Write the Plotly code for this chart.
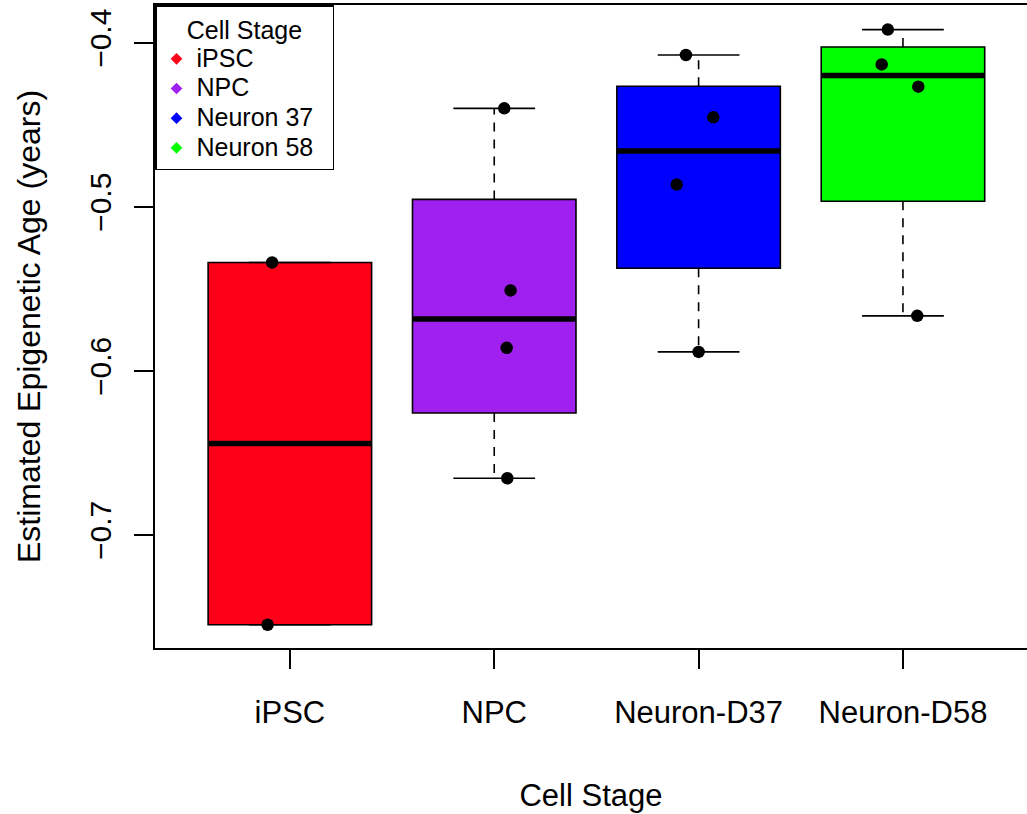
import numpy as np
import plotly.graph_objects as go

# ---------------- data ----------------
categories = ["iPSC", "NPC", "Neuron-D37", "Neuron-D58"]
legend_labels = ["iPSC", "NPC", "Neuron 37", "Neuron 58"]
colors = ["#FF0019", "#A020F0", "#0000FF", "#00FF00"]

ipsc_values = [-0.5340, -0.7548]
npc_values = [-0.4400, -0.5510, -0.5860, -0.6655]
d37_values = [-0.4075, -0.4455, -0.4865, -0.5885]
d58_values = [-0.3920, -0.4132, -0.4268, -0.5665]

# horizontal jitter of the dots (category units)
ipsc_jitter = [-0.087, -0.109]
npc_jitter = [0.049, 0.080, 0.061, 0.064]
d37_jitter = [-0.062, 0.072, -0.107, 0.0]
d58_jitter = [-0.074, -0.104, 0.075, 0.070]

groups = [ipsc_values, npc_values, d37_values, d58_values]
jitters = [ipsc_jitter, npc_jitter, d37_jitter, d58_jitter]

FONT = "Liberation Sans, Arial, sans-serif"
BOX_W = 0.8


def fivenum(v):
    x = np.sort(np.asarray(v, dtype=float))
    n = len(x)
    n4 = np.floor((n + 3) / 2) / 2
    d = np.array([1, n4, (n + 1) / 2, n + 1 - n4, n]) - 1
    return 0.5 * (x[np.floor(d).astype(int)] + x[np.ceil(d).astype(int)])


fig = go.Figure()

med_x, med_y = [], []
wh_x, wh_y = [], []
st_x, st_y = [], []
pt_x, pt_y = [], []

for i, (vals, jit) in enumerate(zip(groups, jitters)):
    pos = i + 1
    s = fivenum(vals)
    q1, med, q3 = s[1], s[2], s[3]
    iqr = q3 - q1
    arr = np.asarray(vals)
    lo = arr[arr >= q1 - 1.5 * iqr].min()
    hi = arr[arr <= q3 + 1.5 * iqr].max()

    fig.add_trace(go.Bar(
        x=[pos], y=[q3 - q1], base=[q1], width=BOX_W,
        marker=dict(color=colors[i], line=dict(color="black", width=1.6)),
        showlegend=False, hoverinfo="skip"))

    med_x += [pos - BOX_W / 2, pos + BOX_W / 2, None]
    med_y += [med, med, None]
    wh_x += [pos, pos, None, pos, pos, None]
    wh_y += [q3, hi, None, q1, lo, None]
    st_x += [pos - BOX_W / 4, pos + BOX_W / 4, None, pos - BOX_W / 4, pos + BOX_W / 4, None]
    st_y += [hi, hi, None, lo, lo, None]
    pt_x += [pos + j for j in jit]
    pt_y += list(vals)

fig.add_trace(go.Scatter(x=wh_x, y=wh_y, mode="lines",
                         line=dict(color="black", width=1.6, dash="9px,8px"),
                         showlegend=False, hoverinfo="skip"))
fig.add_trace(go.Scatter(x=st_x, y=st_y, mode="lines",
                         line=dict(color="black", width=1.6),
                         showlegend=False, hoverinfo="skip"))
fig.add_trace(go.Scatter(x=med_x, y=med_y, mode="lines",
                         line=dict(color="black", width=5.5),
                         showlegend=False, hoverinfo="skip"))
fig.add_trace(go.Scatter(x=pt_x, y=pt_y, mode="markers",
                         marker=dict(color="black", size=12.5),
                         showlegend=False))

# legend entries
for lab, col in zip(legend_labels, colors):
    fig.add_trace(go.Scatter(
        x=[None], y=[None], mode="markers",
        marker=dict(symbol="diamond", color=col, size=9),
        name=f"<span style='font-size:25px'>{lab}&nbsp;&nbsp;</span>"))

fig.update_layout(
    width=1027, height=814,
    margin=dict(l=155, r=0, t=5, b=166, autoexpand=False),
    paper_bgcolor="white", plot_bgcolor="white",
    font=dict(family=FONT, color="black", size=31),
    barmode="overlay",
    legend=dict(
        x=0, y=1, xanchor="left", yanchor="top",
        bgcolor="white", bordercolor="black", borderwidth=1.5,
        font=dict(family=FONT, size=20.5, color="black"),
        title=dict(text="Cell Stage", side="top center",
                   font=dict(family=FONT, size=25, color="black")),
    ),
    xaxis=dict(
        range=[0.34, 4.607], automargin=False,
        tickmode="array", tickvals=[1, 2, 3, 4], ticktext=categories,
        ticks="outside", ticklen=19, tickwidth=1.5, tickcolor="black",
        showline=True, linecolor="black", linewidth=1.5, mirror=True,
        showgrid=False, zeroline=False,
        tickfont=dict(family=FONT, size=31),
        ticklabelstandoff=17,
        title=dict(text="Cell Stage", font=dict(family=FONT, size=31), standoff=55),
    ),
    yaxis=dict(
        range=[-0.7690, -0.3770], automargin=False,
        tick0=-0.4, dtick=0.1,
        tickangle=-90,
        ticks="outside", ticklen=19, tickwidth=1.5, tickcolor="black",
        showline=True, linecolor="black", linewidth=1.5, mirror=False,
        showgrid=False, zeroline=False,
        tickfont=dict(family=FONT, size=30),
        ticklabelstandoff=11,
        title=dict(text="Estimated Epigenetic Age (years)",
                   font=dict(family=FONT, size=32), standoff=34),
    ),
)

fig.write_html("out.html",
               config={"displayModeBar": False},
               post_script="document.body.style.margin='0px';")
